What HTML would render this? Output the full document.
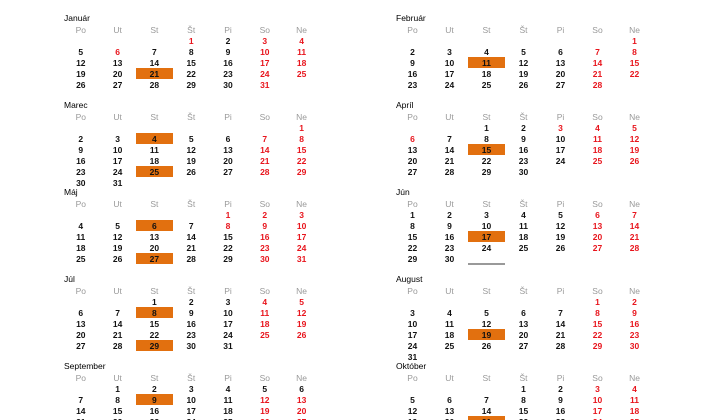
<!DOCTYPE html>
<html><head><meta charset="utf-8"><style>
html,body{margin:0;padding:0;background:#fff;width:720px;height:420px;overflow:hidden;position:relative;font-family:"Liberation Sans",sans-serif}
.t{position:absolute;font-size:8.5px;color:#000;white-space:nowrap}
.h{position:absolute;font-size:8.5px;color:#999;transform:translateX(-50%);white-space:nowrap}
.d{position:absolute;font-size:8.5px;font-weight:bold;color:#111;transform:translateX(-50%);line-height:10px;white-space:nowrap}
.r{color:#e8141c}
.hl{position:absolute;background:#e2700f;width:37px;height:11px}
</style></head><body>
<script>
const monthNames=["Január","Február","Marec","Apríl","Máj","Jún","Júl","August","September","Október"];
const startDow=[3,6,6,2,4,0,2,5,1,3];
const monthLengths=[31,28,31,30,31,30,31,31,30,31];
const dayHeaders=["Po","Ut","St","Št","Pi","So","Ne"];
const highlights=[[21],[11],[4,25],[15],[6,27],[17],[8,29],[19],[9],[21]];
const holidays=[[1,6],[],[],[3,6],[1,8],[],[],[],[],[]];
const blackWeekend=[[],[],[],[],[],[],[],[],[5,6],[]];
function add(cls,txt,x,y,name){const e=document.createElement('div');e.className=cls;if(txt!==null)e.textContent=txt;e.style.left=x+'px';e.style.top=y+'px';


document.body.appendChild(e);return e;}
for(let m=0;m<monthNames.length;m++){
  const col=m%2,row=Math.floor(m/2);
  const x0=col?412.5:80.8,step=col?37:36.8,oy=row*87;
  add('t',monthNames[m],col?396:64,oy+13,'month-title');
  dayHeaders.forEach((h,i)=>add('h',h,x0+i*step,oy+25,'weekday-header'));
  let r=0,c=startDow[m];
  for(let d=1;d<=monthLengths[m];d++){
    const cx=x0+c*step,cy=oy+36+r*10.9;
    if(highlights[m].includes(d)){const b=add('hl',null,cx-18.5,cy-0.5,'highlight-box');}
    const red=(holidays[m].includes(d)||c>=5)&&!blackWeekend[m].includes(d);
    add('d'+(red?' r':''),String(d),cx,cy,'day-cell');
    c++;if(c>6){c=0;r++;}
  }
}
const ln=document.createElement('div');
ln.style.cssText='position:absolute;left:468px;top:263px;width:37px;height:1.5px;background:#999';


document.body.appendChild(ln);
</script>
</body></html>
